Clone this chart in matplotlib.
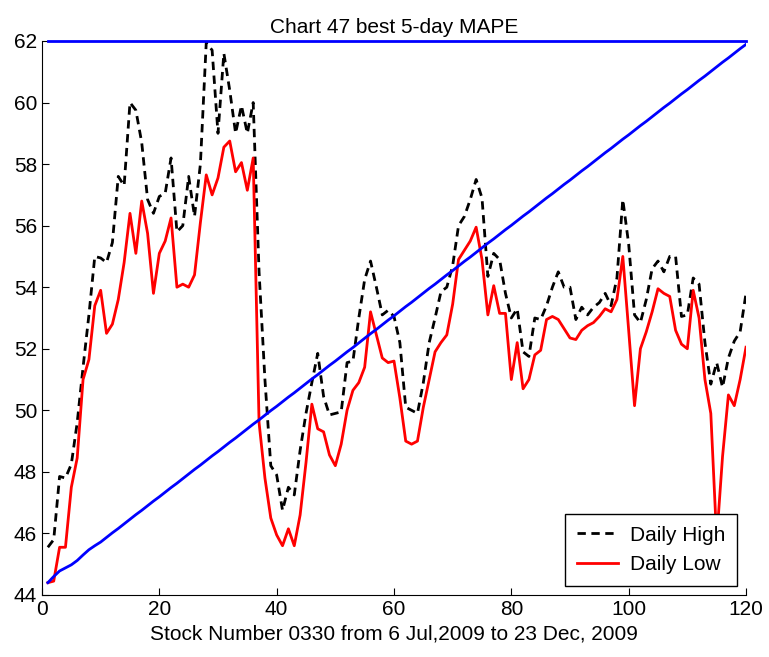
import matplotlib
matplotlib.use('Agg')
import matplotlib.pyplot as plt
import numpy as np

plt.rcParams['font.family'] = ['Liberation Sans', 'DejaVu Sans']

# Stock index along the x axis
stock_no = list(range(1, 121))

# Best 5-day MAPE for the daily high
daily_high = [
    45.55, 45.8, 47.85, 47.8, 48.25, 49.6, 51.4, 53.1, 55.0, 54.95,
    54.8, 55.45, 57.6, 57.3, 60.0, 59.75, 58.7, 56.85, 56.4, 56.95,
    57.05, 58.2, 55.8, 56.0, 57.6, 56.3, 58.0, 61.95, 61.7, 59.0,
    61.6, 60.4, 59.0, 59.9, 59.0, 60.0, 54.5, 51.0, 48.2, 47.9,
    46.75, 47.5, 47.25, 48.7, 49.9, 50.9, 51.85, 50.45, 49.85, 49.9,
    49.95, 51.55, 51.6, 53.0, 54.25, 54.85, 54.0, 53.1, 53.25, 53.05,
    52.2, 50.1, 50.0, 49.9, 50.9, 52.2, 53.0, 53.85, 54.0, 54.7,
    56.0, 56.3, 56.85, 57.5, 56.9, 54.35, 55.1, 54.9, 53.8, 53.0,
    53.3, 51.9, 51.75, 53.0, 52.95, 53.4, 54.0, 54.5, 54.0, 54.0,
    52.95, 53.35, 53.1, 53.35, 53.5, 53.8, 53.4, 54.3, 56.85, 55.4,
    53.1, 52.85, 53.6, 54.6, 54.85, 54.5, 55.0, 55.0, 53.05, 53.1,
    54.3, 54.1, 52.2, 50.85, 51.55, 50.75, 51.7, 52.25, 52.55, 53.8,
]

# Best 5-day MAPE for the daily low
daily_low = [
    44.4, 44.45, 45.55, 45.55, 47.5, 48.45, 51.0, 51.65, 53.4, 53.9,
    52.5, 52.8, 53.6, 54.8, 56.4, 55.1, 56.8, 55.75, 53.8, 55.1,
    55.5, 56.25, 54.0, 54.1, 54.0, 54.4, 56.1, 57.65, 57.0, 57.55,
    58.55, 58.75, 57.75, 58.05, 57.15, 58.2, 49.6, 47.8, 46.5, 45.95,
    45.6, 46.15, 45.6, 46.6, 48.3, 50.2, 49.4, 49.3, 48.55, 48.2,
    48.9, 50.0, 50.65, 50.9, 51.4, 53.2, 52.45, 51.7, 51.55, 51.6,
    50.4, 49.0, 48.9, 49.0, 50.1, 51.0, 51.9, 52.2, 52.45, 53.45,
    54.9, 55.2, 55.5, 55.95, 54.9, 53.1, 54.05, 53.15, 53.15, 51.0,
    52.2, 50.7, 51.0, 51.8, 51.95, 52.95, 53.05, 52.95, 52.65, 52.35,
    52.3, 52.6, 52.75, 52.85, 53.05, 53.3, 53.2, 53.6, 55.0, 52.6,
    50.15, 52.0, 52.55, 53.2, 53.95, 53.8, 53.7, 52.6, 52.15, 52.0,
    53.9, 53.0, 51.0, 49.9, 45.8, 48.5, 50.5, 50.15, 51.0, 52.05,
]

# Reference line rising across the period
ref_line = [
    44.40, 44.60, 44.78, 44.88, 44.98, 45.12, 45.30, 45.47, 45.60, 45.72,
    45.87, 46.02, 46.16, 46.31, 46.46, 46.61, 46.75, 46.90, 47.05, 47.19,
    47.34, 47.49, 47.63, 47.78, 47.93, 48.08, 48.22, 48.37, 48.52, 48.66,
    48.81, 48.96, 49.10, 49.25, 49.40, 49.55, 49.69, 49.84, 49.99, 50.13,
    50.28, 50.43, 50.57, 50.72, 50.87, 51.02, 51.16, 51.31, 51.46, 51.60,
    51.75, 51.90, 52.04, 52.19, 52.34, 52.49, 52.63, 52.78, 52.93, 53.07,
    53.22, 53.37, 53.51, 53.66, 53.81, 53.96, 54.10, 54.25, 54.40, 54.54,
    54.69, 54.84, 54.98, 55.13, 55.28, 55.43, 55.57, 55.72, 55.87, 56.01,
    56.16, 56.31, 56.45, 56.60, 56.75, 56.90, 57.04, 57.19, 57.34, 57.48,
    57.63, 57.78, 57.92, 58.07, 58.22, 58.37, 58.51, 58.66, 58.81, 58.95,
    59.10, 59.25, 59.39, 59.54, 59.69, 59.84, 59.98, 60.13, 60.28, 60.42,
    60.57, 60.72, 60.86, 61.01, 61.16, 61.31, 61.45, 61.60, 61.75, 61.89,
]

# Flat cap line
cap_x = [1, 120]
cap_y = [62, 62]

x_ticks = [0, 20, 40, 60, 80, 100, 120]
y_ticks = [44, 46, 48, 50, 52, 54, 56, 58, 60, 62]

fig = plt.figure(figsize=(7.69, 6.57), dpi=100)
ax = fig.add_axes([0.0546, 0.0944, 0.9155, 0.8432])

ax.plot(stock_no, daily_high, color='black', linestyle='--', dashes=(3, 2),
        linewidth=2, label='Daily High')
ax.plot(stock_no, daily_low, color='red', linewidth=2, label='Daily Low')
ax.plot(stock_no, ref_line, color='blue', linewidth=2)
ax.plot(cap_x, cap_y, color='blue', linewidth=2, clip_on=False)

ax.set_xlim(0, 120)
ax.set_ylim(44, 62)
ax.set_xticks(x_ticks)
ax.set_yticks(y_ticks)
ax.tick_params(direction='in', length=5, labelsize=15, width=0.8)

# only left and bottom axis lines
ax.spines['top'].set_visible(False)
ax.spines['right'].set_visible(False)

ax.set_title('Chart 47 best 5-day MAPE', fontsize=15, pad=6)
ax.set_xlabel('Stock Number 0330 from 6 Jul,2009 to 23 Dec, 2009', fontsize=15, labelpad=4)

leg = ax.legend(loc='lower right', fontsize=15, fancybox=False, framealpha=1,
                edgecolor='black', borderaxespad=0.45, borderpad=0.55,
                handlelength=2.0, handletextpad=0.55, labelspacing=0.5)
leg.get_frame().set_linewidth(1)
leg.set_zorder(5)

plt.savefig('out.png', dpi=100)
